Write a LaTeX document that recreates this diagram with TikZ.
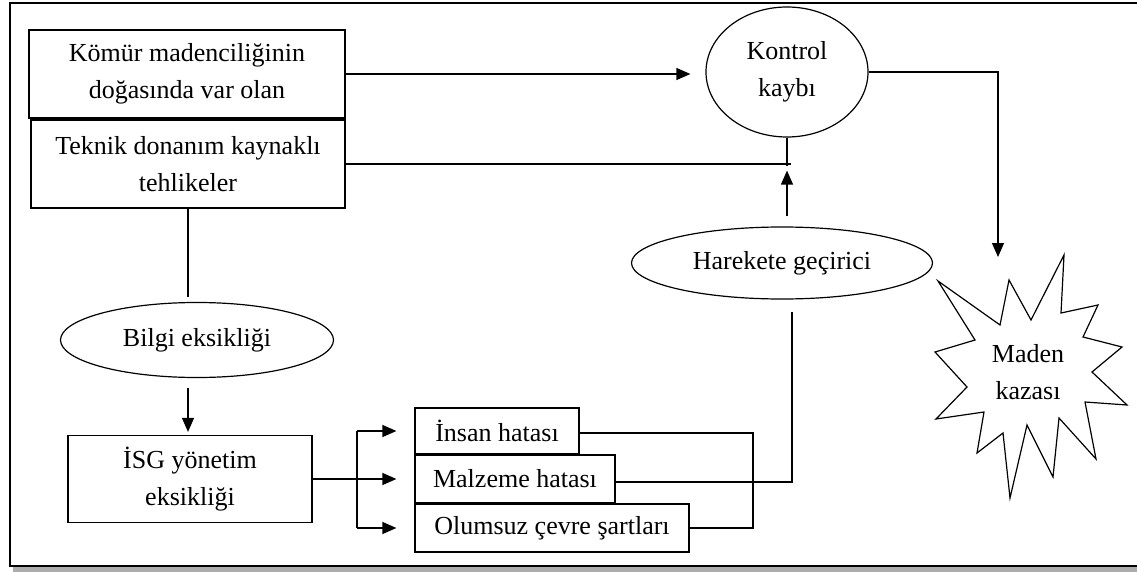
\documentclass[tikz,border=0pt]{standalone}
\usepackage{fontspec}
\setmainfont{Liberation Serif}
\usetikzlibrary{shapes.geometric,arrows.meta,calc}

\tikzset{
  line/.style={line width=1.2pt, draw=black},
  arr/.style={line, -{Triangle[length=14pt,width=12pt]}},
  txt/.style={font=\fontsize{26}{37}\selectfont},
  box/.style={line, rectangle, inner sep=0pt, align=center, txt},
  oval/.style={line, ellipse, inner sep=0pt, align=center, txt},
}

\begin{document}
\begin{tikzpicture}[x=1pt, y=-1pt]
  \useasboundingbox (0,0) rectangle (1137,572);

  % frame with drop shadow
  \fill[gray!65] (13,567) rectangle (1137,572);
  \fill[white] (10,3) rectangle (1137,566);
  \draw[line width=1.4pt] (1137,3) -- (10,3) -- (10,566) -- (1137,566);

  % hazard boxes
  \node[box, minimum width=316pt, minimum height=88pt] (box1) at (187,74)
    {Kömür madenciliğinin\\doğasında var olan};
  \node[box, minimum width=314pt, minimum height=88pt] (box2) at (188,164)
    {Teknik donanım kaynaklı\\tehlikeler};

  % ovals
  \node[oval, minimum width=162pt, minimum height=130pt] (kontrol) at (787,72)
    {Kontrol\\kaybı};
  \node[oval, minimum width=301pt, minimum height=72pt] (harek) at (782,263)
    {Harekete geçirici};
  \node[oval, minimum width=273pt, minimum height=75pt] (bilgi) at (197,340)
    {Bilgi eksikliği};

  % management and error boxes
  \node[box, minimum width=244pt, minimum height=87pt] (isg) at (190,479)
    {İSG yönetim\\eksikliği};
  \node[box, minimum width=164pt, minimum height=46pt] (insan) at (497,431)
    {İnsan hatası};
  \node[box, minimum width=200pt, minimum height=48pt] (malz) at (515,479)
    {Malzeme hatası};
  \node[box, minimum width=274pt, minimum height=48pt] (olum) at (552,528)
    {Olumsuz çevre şartları};

  % accident burst
  \draw[line, line join=miter]
    (1009,280) -- (1031,320) -- (1064,255) -- (1061,313) -- (1098,305)
    -- (1083,337) -- (1122,347) -- (1092,372) -- (1127,405) -- (1085,402)
    -- (1096,459) -- (1059,418) -- (1053,477) -- (1027,425) -- (1010,498)
    -- (1003,433) -- (977,453) -- (984,412) -- (936,419) -- (967,387)
    -- (935,352) -- (975,340) -- (938,281) -- (1000,325) -- cycle;
  \node[align=center, inner sep=0pt, txt] (kaza) at (1028,372) {Maden\\kazası};

  % helper points
  \coordinate (hit) at (998,257);
  \coordinate (br) at (357,479);
  \coordinate (rj) at (753,479);
  \coordinate (up) at (792,312);

  % connectors
  \draw[arr, shorten >=15pt] (box1.east) -- (box1.east -| kontrol.west);
  \draw[line] (box2.east) -- ($(box2.east -| kontrol.south)+(4,0)$);
  \draw[line] (kontrol.south) -- ($(kontrol.south)+(0,28)$);
  \draw[arr] ($(harek.north -| kontrol.south)+(0,-10)$) -- ($(kontrol.south)+(0,33)$);
  \draw[arr] (kontrol.east) -| (hit);

  \draw[line, shorten >=5pt] (box2.south) -- (box2.south |- bilgi.north);
  \draw[arr, shorten >=3pt] ($(bilgi.south -| box2.south)+(0,10)$) -- (isg.north -| box2.south);

  \draw[arr, shorten >=18pt] (isg.east) -- (isg.east -| malz.west);
  \draw[line] (insan.west -| br) -- (olum.west -| br);
  \draw[arr, shorten >=18pt] (insan.west -| br) -- (insan.west);
  \draw[arr, shorten >=18pt] (olum.west -| br) -- (olum.west);

  \draw[line] ($(insan.east)+(0,2)$) -- ($(insan.east -| rj)+(0,2)$) -- (olum.east -| rj) -- (olum.east);
  \draw[line] ($(malz.east)+(0,3)$) -| (up);
\end{tikzpicture}
\end{document}
